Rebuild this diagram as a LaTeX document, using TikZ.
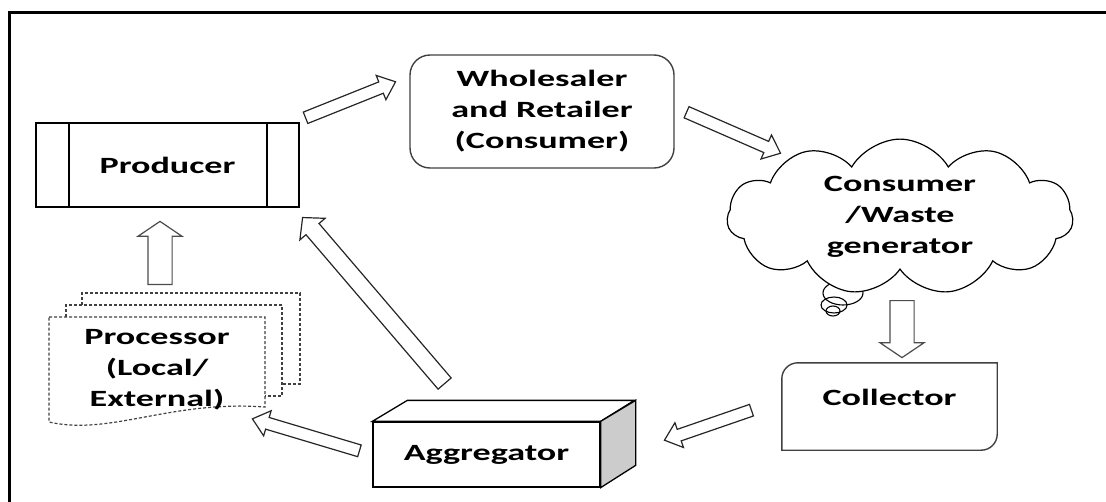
\documentclass[tikz,border=0pt]{standalone}
\usepackage{fontspec}
\setmainfont{Carlito}[FakeStretch=1.55]
\usetikzlibrary{arrows.meta,positioning,calc,shapes.symbols,shapes.arrows}

\newcommand{\blockarrow}[3][]{%
  \path let \p1=($(#3)-(#2)$) in
    node[flow,#1,anchor=tail,rotate={atan2(\y1,\x1)},minimum height={veclen(\x1,\y1)}] at (#2) {};}

\begin{document}
\begin{tikzpicture}[x=1pt,y=-1pt,
  every node/.style={font=\fontsize{23.3pt}{31pt}\selectfont\bfseries},
  flow/.style={single arrow,draw=black!85,line width=1.2pt,fill=white,inner sep=0pt},
  slim/.style={inner ysep=5.5pt,single arrow head extend=7pt,single arrow tip angle=80},
  broad/.style={inner ysep=8pt,single arrow head extend=8pt,single arrow tip angle=95},
  wide/.style={inner ysep=11.5pt,single arrow head extend=10pt,single arrow tip angle=112,draw=black!70},
  docline/.style={draw=black!75,line width=1.2pt,dash pattern=on 3pt off 2pt}]
\clip (0,0) rectangle (1106,501);
\draw[line width=3pt] (9,12) rectangle (1115,510);

\node[draw,line width=2.5pt,minimum width=263pt,minimum height=84pt] (producer) at (167.5,165) {Producer};
\draw[line width=2.3pt] ([xshift=34pt]producer.north west) -- ([xshift=34pt]producer.south west);
\draw[line width=2.3pt] ([xshift=-33pt]producer.north east) -- ([xshift=-33pt]producer.south east);

\node[draw=black!75,line width=1.4pt,rounded corners=20pt,minimum width=264pt,minimum height=113pt,align=center] (wholesaler) at (542,111.5) {Wholesaler\\and Retailer\\(Consumer)};

\draw[line width=1.1pt] (843,293) ellipse [x radius=20pt,y radius=12pt];
\draw[line width=1.1pt] (834,305) ellipse [x radius=13pt,y radius=8pt];
\draw[line width=1.1pt] (833,311) ellipse [x radius=7pt,y radius=5pt];
\node[cloud,cloud puffs=11,cloud puff arc=120,cloud ignores aspect,draw,fill=white,line width=1.2pt,minimum width=346pt,minimum height=155pt,align=center] (consumer) at (900,217) {Consumer\\/Waste\\generator};

\node[text height=16pt,text depth=18pt,minimum width=215pt,minimum height=87pt] (collector) at (889.5,406.5) {Collector};
\draw[draw=black!75,line width=1.4pt] (collector.south west) -- ([yshift=-16pt]collector.north west)
  arc[start angle=180,end angle=90,radius=16pt] -- (collector.north east)
  -- ([yshift=16pt]collector.south east) arc[start angle=0,end angle=-90,radius=16pt] -- cycle;

\node[draw,line width=1.3pt,minimum width=227pt,minimum height=65pt] (aggregator) at (486.5,454.5) {Aggregator};
\draw[line width=1.3pt] (aggregator.north west) -- ++(35,-21) -- ++(227,0) -- (aggregator.north east) -- cycle;
\draw[line width=1.3pt,fill=gray!40] (aggregator.north east) -- ++(35,-21) -- ++(0,65) -- (aggregator.south east) -- cycle;

\draw[docline] (82,305) -- (82,293) -- (300,293) -- (300,384) -- (282,384);
\draw[docline] (66,317) -- (66,305) -- (282,305) -- (282,396) -- (265,396);
\draw[docline] (49,317) -- (265,317) -- (265,407) .. controls (170,400) and (110,436) .. (49,422) -- cycle;
\node[align=center] (processor) at (157,370) {Processor\\(Local/\\External)};

\coordinate (prod-out) at (305,118);
\coordinate (whole-in) at (395,82);
\coordinate (whole-out) at (686,112);
\coordinate (cons-in) at (780,153);
\coordinate (cons-out) at (902,300);
\coordinate (coll-in) at (902,357);
\coordinate (coll-out) at (752,410);
\coordinate (agg-in) at (665,440);
\coordinate (agg-out1) at (360,451);
\coordinate (proc-in) at (253,419);
\coordinate (agg-out2) at (445,384);
\coordinate (prod-in1) at (303,218);
\coordinate (proc-out) at (160,285);
\coordinate (prod-in2) at (160,222);

\blockarrow[slim]{prod-out}{whole-in}
\blockarrow[slim]{whole-out}{cons-in}
\blockarrow[wide]{cons-out}{coll-in}
\blockarrow[slim]{coll-out}{agg-in}
\blockarrow[slim]{agg-out1}{proc-in}
\blockarrow[broad]{agg-out2}{prod-in1}
\blockarrow[wide]{proc-out}{prod-in2}
\end{tikzpicture}
\end{document}
